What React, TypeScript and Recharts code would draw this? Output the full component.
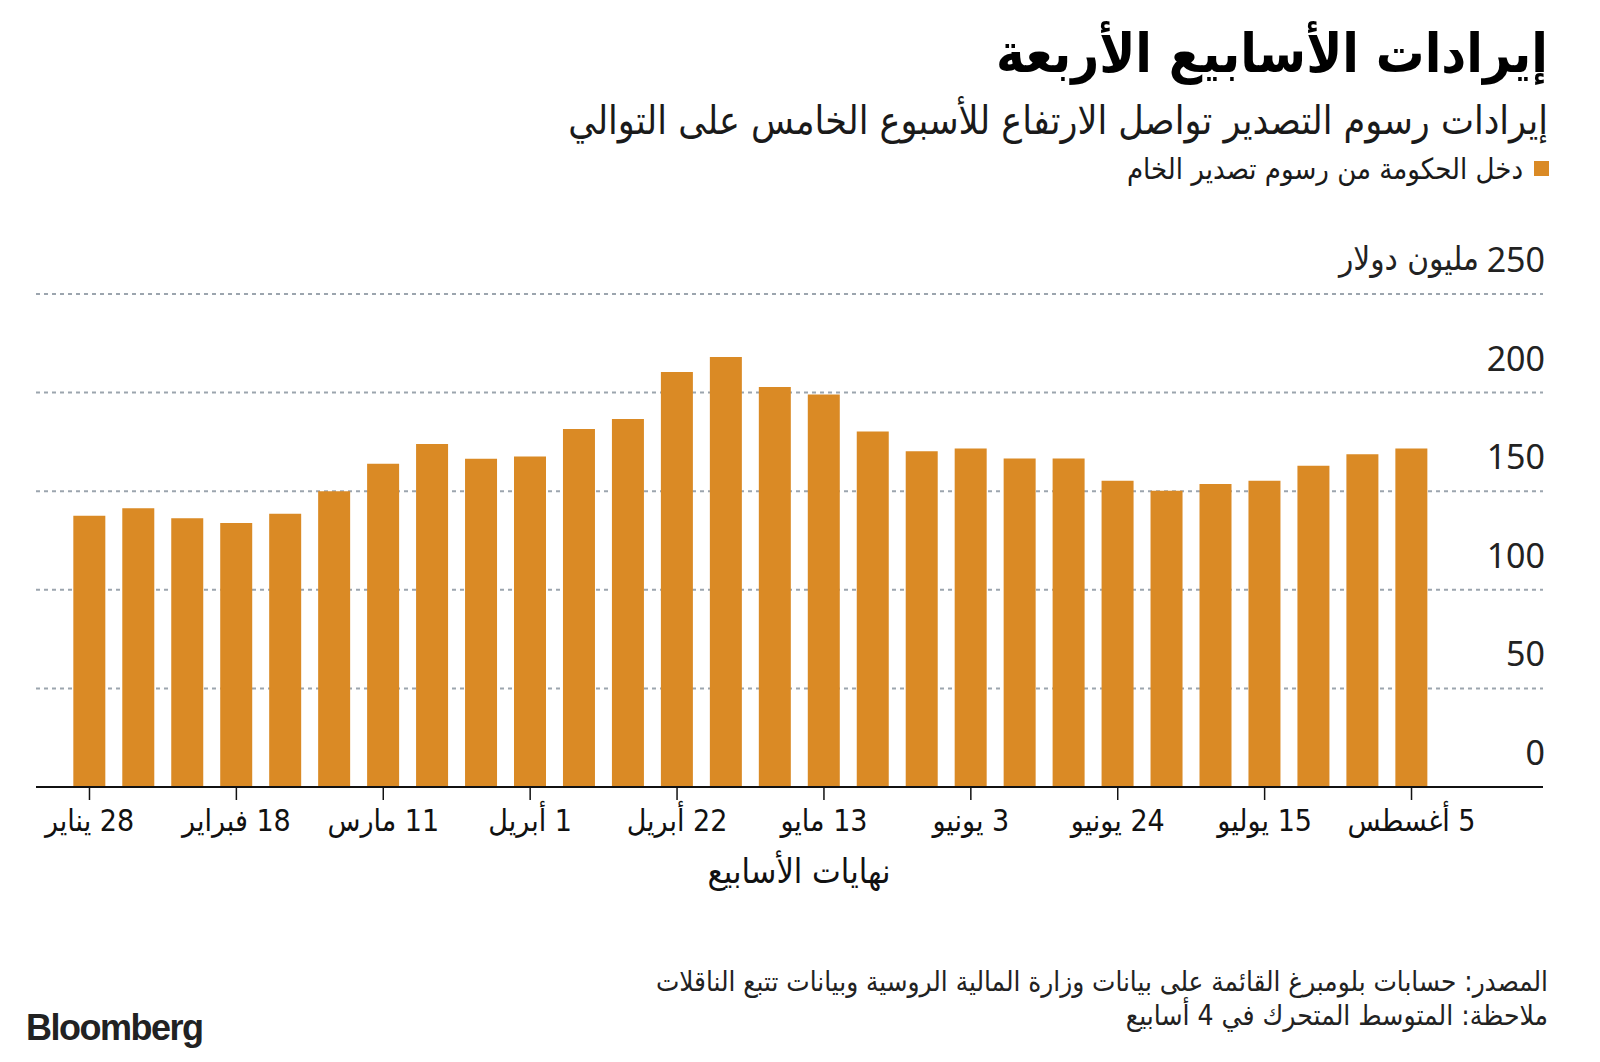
import { Bar, BarChart, CartesianGrid, XAxis, YAxis } from "recharts";

// weekly crude export duty revenue, 4-week moving average (mln USD)
const WEEKS = [
  "28 يناير", "4 فبراير", "11 فبراير", "18 فبراير", "25 فبراير",
  "4 مارس", "11 مارس", "18 مارس", "25 مارس",
  "1 أبريل", "8 أبريل", "15 أبريل", "22 أبريل", "29 أبريل",
  "6 مايو", "13 مايو", "20 مايو", "27 مايو",
  "3 يونيو", "10 يونيو", "17 يونيو", "24 يونيو",
  "1 يوليو", "8 يوليو", "15 يوليو", "22 يوليو", "29 يوليو",
  "5 أغسطس",
];

const REVENUE = [
  137.5, 141.4, 136.3, 133.9, 138.6, 150.0, 163.9, 173.9, 166.4, 167.6,
  181.5, 186.6, 210.5, 218.0, 202.9, 199.0, 180.3, 170.3, 171.7, 166.6,
  166.6, 155.3, 150.2, 153.7, 155.3, 162.9, 168.8, 171.7,
];

const Y_TICKS = [0, 50, 100, 150, 200, 250];
const Y_UNIT = "مليون دولار";

const TITLE = "إيرادات الأسابيع الأربعة";
const SUBTITLE = "إيرادات رسوم التصدير تواصل الارتفاع للأسبوع الخامس على التوالي";
const LEGEND = "دخل الحكومة من رسوم تصدير الخام";
const X_TITLE = "نهايات الأسابيع";
const SOURCE = "المصدر: حسابات بلومبرغ القائمة على بيانات وزارة المالية الروسية وبيانات تتبع الناقلات";
const NOTE = "ملاحظة: المتوسط المتحرك في 4 أسابيع";

const ORANGE = "#da8a25";
const AR_FONT = "'DejaVu Sans Condensed', 'DejaVu Sans', sans-serif";
const NUM_FONT = "'Noto Sans', 'Open Sans', sans-serif";

const data = WEEKS.map((week, i) => ({ week, revenue: REVENUE[i] }));

function XTick({ x, y, payload }: any) {
  return (
    <text x={x} y={y + 31} textAnchor="middle" fontSize={30} fill="#111" fontFamily={AR_FONT} style={{ direction: "rtl" }}>
      {payload.value}
    </text>
  );
}

function YTick({ x, y, payload }: any) {
  return (
    <g>
      <text x={x + 2} y={y - 22} textAnchor="end" fontSize={34} fill="#222" fontFamily={NUM_FONT}>
        {payload.value}
      </text>
      {payload.value === 250 && (
        <text x={x - 64} y={y - 24} textAnchor="end" fontSize={33} fill="#222" fontFamily={AR_FONT}>
          {Y_UNIT}
        </text>
      )}
    </g>
  );
}

const txt = (top: number, size: number, extra: React.CSSProperties = {}): React.CSSProperties => ({
  position: "absolute",
  right: 52,
  top,
  fontSize: size,
  lineHeight: 1,
  fontFamily: AR_FONT,
  direction: "rtl",
  whiteSpace: "nowrap",
  color: "#1a1a1a",
  ...extra,
});

export default function App() {
  return (
    <div style={{ position: "absolute", left: 0, top: 0, width: 1600, height: 1062, background: "#fff", overflow: "hidden" }}>
      <div style={txt(27, 54, { fontWeight: 700, color: "#000" })}>{TITLE}</div>
      <div style={txt(101, 39)}>{SUBTITLE}</div>
      <div style={{ position: "absolute", left: 1534, top: 161, width: 15, height: 15, background: ORANGE }} />
      <div style={txt(155, 29, { right: 77 })}>{LEGEND}</div>

      <div style={{ position: "absolute", left: 0, top: 0 }}>
        <BarChart width={1600} height={1062} data={data} margin={{ top: 294, right: 0, left: 36, bottom: 0 }} barCategoryGap="17%">
          <CartesianGrid vertical={false} stroke="#9ca5ae" strokeWidth={2} strokeDasharray="4 4" />
          <XAxis
            dataKey="week"
            height={275}
            interval={2}
            padding={{ left: 29, right: 107 }}
            axisLine={{ stroke: "#111", strokeWidth: 2 }}
            tickLine={{ stroke: "#111", strokeWidth: 1.5 }}
            tickSize={13}
            tickMargin={0}
            tick={<XTick />}
          />
          <YAxis
            orientation="right"
            width={57}
            domain={[0, 250]}
            ticks={Y_TICKS}
            interval={0}
            axisLine={false}
            tickLine={false}
            tickSize={0}
            tickMargin={0}
            tick={<YTick />}
          />
          <Bar dataKey="revenue" fill={ORANGE} isAnimationActive={false} />
        </BarChart>
      </div>

      <div style={{ position: "absolute", left: 799, top: 854, transform: "translateX(-50%)", fontSize: 34, lineHeight: 1, fontFamily: AR_FONT, direction: "rtl", whiteSpace: "nowrap", color: "#111" }}>
        {X_TITLE}
      </div>

      <div style={txt(968, 27.6, { color: "#222" })}>{SOURCE}</div>
      <div style={txt(1002, 28, { color: "#222" })}>{NOTE}</div>
      <div style={{ position: "absolute", left: 26, top: 1010, fontSize: 36, lineHeight: 1, fontWeight: 700, fontFamily: "'Liberation Sans', Arial, sans-serif", letterSpacing: -1.5, color: "#222" }}>
        Bloomberg
      </div>
    </div>
  );
}
